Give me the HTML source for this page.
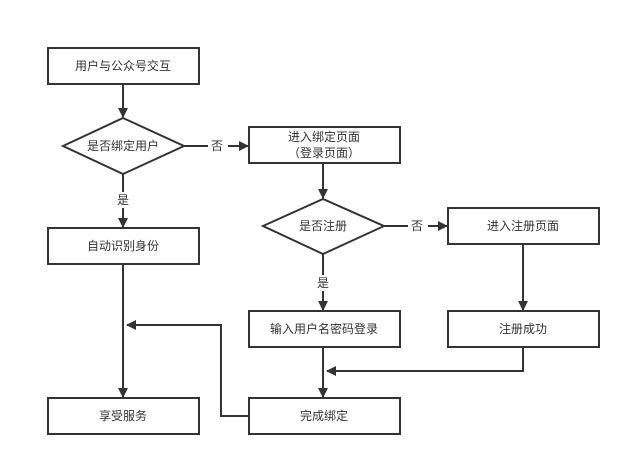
<!DOCTYPE html>
<html><head><meta charset="utf-8"><style>
body{margin:0;background:#fff}
text{font-family:"Liberation Sans","Noto Sans CJK SC",sans-serif;font-size:12px;fill:#333}
</style></head><body>
<svg width="631" height="467" viewBox="0 0 631 467" xmlns="http://www.w3.org/2000/svg">
<defs><marker id="a" markerWidth="10" markerHeight="10" refX="9" refY="5" orient="auto" markerUnits="userSpaceOnUse"><path d="M0,0 L10,5 L0,10 Z" fill="#333"/></marker></defs>
<g fill="#fff" stroke="#333" stroke-width="2">
<rect x="48" y="48" width="151" height="36"/>
<polygon points="63,146 123,118 184,146 123,174"/>
<rect x="249" y="127" width="151" height="36"/>
<polygon points="263,226 323,199 384,226 323,254"/>
<rect x="448" y="208" width="151" height="36"/>
<rect x="48" y="228" width="151" height="36"/>
<rect x="249" y="311" width="151" height="36"/>
<rect x="448" y="311" width="151" height="36"/>
<rect x="48" y="398" width="151" height="36"/>
<rect x="249" y="398" width="151" height="36"/>
</g>
<g stroke="#333" stroke-width="2" fill="none" marker-end="url(#a)">
<line x1="123" y1="84" x2="123" y2="117"/>
<line x1="228" y1="146" x2="248" y2="146"/>
<line x1="123" y1="208" x2="123" y2="227"/>
<line x1="323" y1="163" x2="323" y2="198"/>
<line x1="428" y1="226" x2="447" y2="226"/>
<line x1="323" y1="291" x2="323" y2="310"/>
<line x1="523" y1="244" x2="523" y2="310"/>
<line x1="123" y1="264" x2="123" y2="397"/>
<line x1="323" y1="347" x2="323" y2="397"/>
<polyline points="523,347 523,371 327,371"/>
<polyline points="249,416 221,416 221,325 127,325"/>
</g>
<g stroke="#333" stroke-width="2">
<line x1="184" y1="146" x2="208" y2="146"/>
<line x1="123" y1="174" x2="123" y2="192"/>
<line x1="384" y1="226" x2="408" y2="226"/>
<line x1="323" y1="254" x2="323" y2="275"/>
</g>
<g text-anchor="middle">
<text x="123" y="70">用户与公众号交互</text>
<text x="123" y="150">是否绑定用户</text>
<text x="217" y="150">否</text>
<text x="123" y="204">是</text>
<text x="324" y="141">进入绑定页面</text>
<text x="324" y="157">（登录页面）</text>
<text x="323" y="230">是否注册</text>
<text x="417" y="230">否</text>
<text x="323" y="287">是</text>
<text x="523" y="230">进入注册页面</text>
<text x="123" y="250">自动识别身份</text>
<text x="324" y="333">输入用户名密码登录</text>
<text x="523" y="333">注册成功</text>
<text x="123" y="420">享受服务</text>
<text x="324" y="420">完成绑定</text>
</g>
</svg>
</body></html>
